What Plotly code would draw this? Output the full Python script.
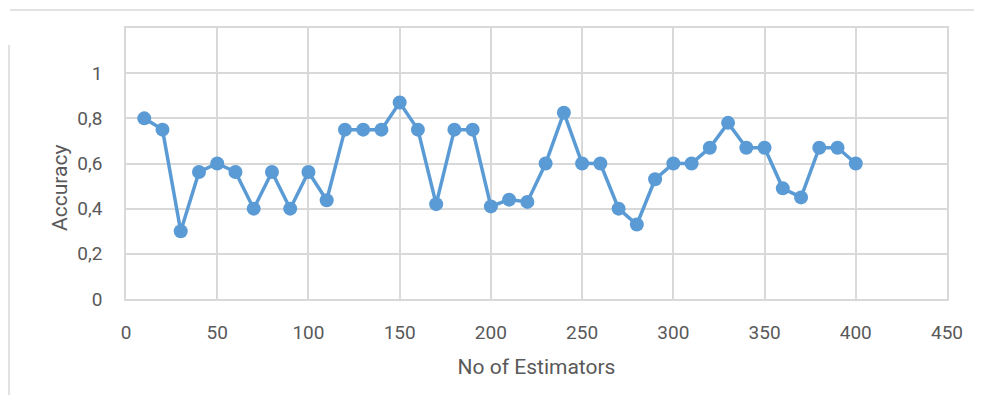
import plotly.graph_objects as go

estimators = [10, 20, 30, 40, 50, 60, 70, 80, 90, 100,
              110, 120, 130, 140, 150, 160, 170, 180, 190, 200,
              210, 220, 230, 240, 250, 260, 270, 280, 290, 300,
              310, 320, 330, 340, 350, 360, 370, 380, 390, 400]
accuracy = [0.80, 0.75, 0.30, 0.5625, 0.60, 0.5625, 0.40, 0.5625, 0.40, 0.5625,
            0.4375, 0.75, 0.75, 0.75, 0.87, 0.75, 0.42, 0.75, 0.75, 0.41,
            0.44, 0.43, 0.60, 0.825, 0.60, 0.60, 0.40, 0.33, 0.53, 0.60,
            0.60, 0.67, 0.78, 0.67, 0.67, 0.49, 0.45, 0.67, 0.67, 0.60]
x_ticks = [0, 50, 100, 150, 200, 250, 300, 350, 400, 450]
y_ticks = [0, 0.2, 0.4, 0.6, 0.8, 1.0]
y_tick_text = ["0", "0,2", "0,4", "0,6", "0,8", "1"]

# page pixel geometry of the plot area (the page body has an 8px margin)
OFF = 8
L, R, T, B = 126, 947, 28, 299
W, H = 982 - OFF, 403 - OFF

def px(x):
    return (x - L) / (R - L)

def py(y):
    return (B - y) / (B - T)

fig = go.Figure(go.Scatter(
    x=estimators, y=accuracy, mode="lines+markers",
    line=dict(color="#5B9BD5", width=3.5),
    marker=dict(color="#5B9BD5", size=14),
    cliponaxis=False,
))

font_family = "Roboto, Open Sans, sans-serif"
grid = "#D9D9D9"
fig.update_layout(
    width=W, height=H,
    margin=dict(l=L - OFF, r=W - (R - OFF), t=T - OFF, b=H - (B - OFF), autoexpand=False),
    paper_bgcolor="white", plot_bgcolor="white",
    separators=", ",
    showlegend=False,
    font=dict(family=font_family, color="#595959", size=20),
    xaxis=dict(range=[0, 450], tickvals=x_ticks, ticktext=[str(v) for v in x_ticks],
               showgrid=True, gridcolor=grid, gridwidth=1.5,
               showline=True, linecolor=grid, linewidth=1.5, mirror=True,
               zeroline=False, ticks="", ticklen=0, ticklabelstandoff=15,
               title=dict(text="No of Estimators", standoff=17,
                          font=dict(size=21, color="#595959")),
               tickfont=dict(size=19)),
    yaxis=dict(range=[0, 1.2], tickvals=y_ticks, ticktext=y_tick_text,
               showgrid=True, gridcolor=grid, gridwidth=1.5,
               showline=True, linecolor=grid, linewidth=1.5, mirror=True,
               zeroline=False, ticks="", ticklen=0, ticklabelstandoff=18,
               tickfont=dict(size=19)),
    annotations=[
        dict(text="Accuracy", xref="paper", yref="paper",
             x=px(60), y=py(188), textangle=-90, showarrow=False,
             xanchor="center", yanchor="middle",
             font=dict(size=21, color="#595959")),
    ],
    shapes=[
        dict(type="line", xref="paper", yref="paper",
             x0=px(10), x1=px(982), y0=py(10), y1=py(10),
             line=dict(color=grid, width=1.5)),
        dict(type="line", xref="paper", yref="paper",
             x0=px(9), x1=px(9), y0=py(45), y1=py(395),
             line=dict(color=grid, width=1.5)),
    ],
)

fig.write_html("out.html")
